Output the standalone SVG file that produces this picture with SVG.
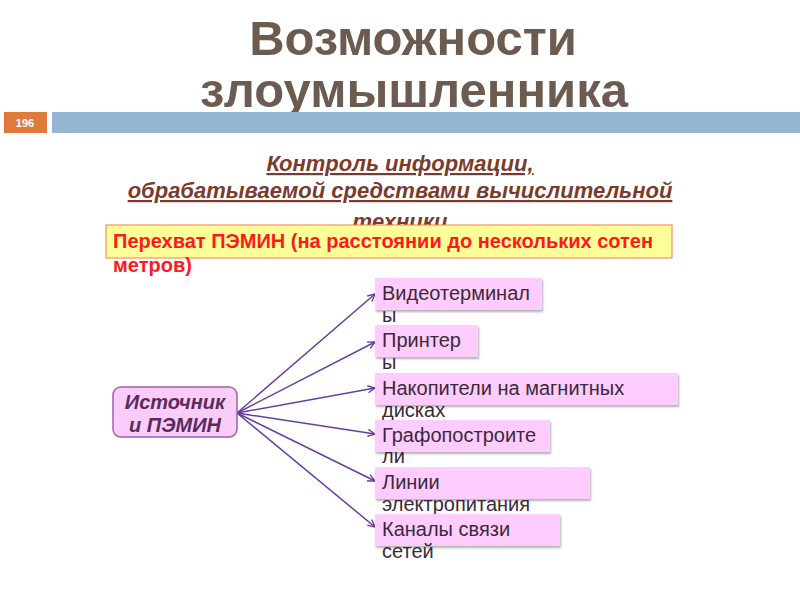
<svg xmlns="http://www.w3.org/2000/svg" width="800" height="600" viewBox="0 0 800 600">
<defs>
<style>
.title{font-family:"Liberation Sans",Arial,sans-serif;font-weight:bold;font-size:49px;fill:#6b5b50;text-anchor:middle}
.sub{font-family:"Liberation Sans",Arial,sans-serif;font-weight:bold;font-style:italic;font-size:22px;fill:#7a3b2e;text-anchor:middle;text-decoration:underline}
.red{font-family:"Liberation Sans",Arial,sans-serif;font-weight:bold;font-size:20px;fill:#ff1a1a}
.src{font-family:"Liberation Sans",Arial,sans-serif;font-weight:bold;font-style:italic;font-size:20px;fill:#5a2a5e;text-anchor:middle}
.tgt{font-family:"Liberation Sans",Arial,sans-serif;font-size:20px;fill:#3a2a3a}
.box{fill:#ffccff;filter:url(#sh)}
.conn{stroke:#6a3d9a;stroke-width:1.5;fill:none;marker-end:url(#arr)}
</style>
<filter id="sh" x="-10%" y="-20%" width="120%" height="150%">
<feDropShadow dx="1" dy="2" stdDeviation="1.2" flood-color="#000" flood-opacity="0.3"/>
</filter>
<marker id="arr" viewBox="0 0 10 10" refX="9" refY="5" markerWidth="9" markerHeight="9" markerUnits="userSpaceOnUse" orient="auto">
<path d="M1,1 L9,5 L1,9" fill="none" stroke="#6a3d9a" stroke-width="1.5"/>
</marker>
</defs>
<rect width="800" height="600" fill="#ffffff"/>
<g id="title">
<text class="title" x="413" y="55">Возможности</text>
<text class="title" x="414" y="107">злоумышленника</text>
</g>
<g id="header-bar">
<rect x="4" y="112" width="43" height="21" fill="#e07a3c"/>
<text x="25" y="127" font-family="Liberation Sans,Arial,sans-serif" font-weight="bold" font-size="11" fill="#ffffff" text-anchor="middle">196</text>
<rect x="52" y="112" width="748" height="21" fill="#94b6d2"/>
</g>
<g id="subtitle">
<text class="sub" x="400" y="171">Контроль информации,</text>
<text class="sub" x="400" y="198">обрабатываемой средствами вычислительной</text>
<text class="sub" x="400" y="229">техники</text>
</g>
<g id="intercept">
<rect x="106" y="225" width="566" height="33" fill="#ffff99" stroke="#f08040" stroke-width="1"/>
<text class="red" x="113" y="248">Перехват ПЭМИН (на расстоянии до нескольких сотен</text>
<text class="red" x="113" y="272">метров)</text>
</g>
<g id="connectors">
<line class="conn" x1="237" y1="413" x2="375" y2="294"/>
<line class="conn" x1="237" y1="413" x2="375" y2="342"/>
<line class="conn" x1="237" y1="413" x2="375" y2="388"/>
<line class="conn" x1="237" y1="413" x2="375" y2="434"/>
<line class="conn" x1="237" y1="413" x2="375" y2="481"/>
<line class="conn" x1="237" y1="413" x2="375" y2="527"/>
</g>
<g id="source">
<rect x="113" y="387" width="124" height="50" rx="8" fill="#f9ccf9" stroke="#a060a8" stroke-width="1.5"/>
<text class="src" x="175" y="409">Источник</text>
<text class="src" x="175" y="432">и ПЭМИН</text>
</g>
<g id="t1">
<rect class="box" x="375" y="278" width="167" height="32"/>
<text class="tgt" x="382" y="300">Видеотерминал</text>
<text class="tgt" x="382" y="322">ы</text>
</g>
<g id="t2">
<rect class="box" x="375" y="325" width="103" height="32"/>
<text class="tgt" x="382" y="347">Принтер</text>
<text class="tgt" x="382" y="369">ы</text>
</g>
<g id="t3">
<rect class="box" x="375" y="373" width="303" height="32"/>
<text class="tgt" x="382" y="395">Накопители на магнитных</text>
<text class="tgt" x="382" y="417">дисках</text>
</g>
<g id="t4">
<rect class="box" x="375" y="420" width="175" height="32"/>
<text class="tgt" x="382" y="442">Графопостроите</text>
<text class="tgt" x="382" y="463">ли</text>
</g>
<g id="t5">
<rect class="box" x="375" y="467" width="215" height="32"/>
<text class="tgt" x="382" y="489">Линии</text>
<text class="tgt" x="382" y="511">электропитания</text>
</g>
<g id="t6">
<rect class="box" x="375" y="514" width="185" height="32"/>
<text class="tgt" x="382" y="536">Каналы связи</text>
<text class="tgt" x="382" y="558">сетей</text>
</g>
</svg>
